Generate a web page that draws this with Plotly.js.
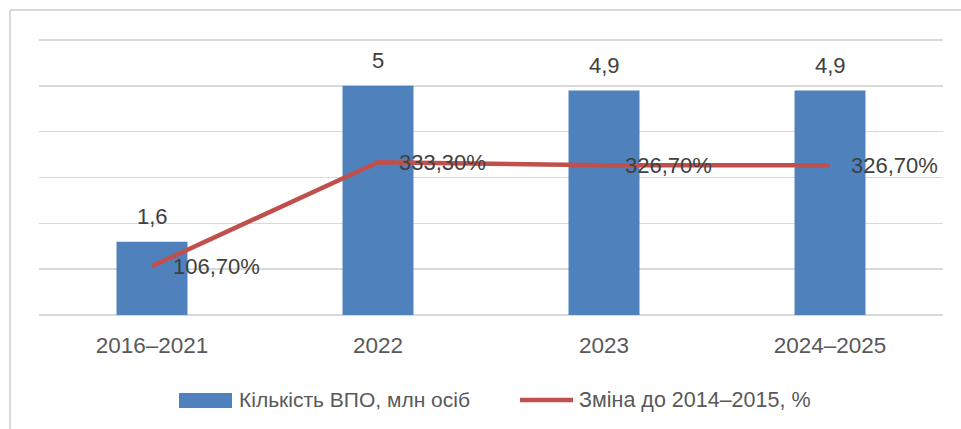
<!DOCTYPE html>
<html>
<head>
<meta charset="utf-8">
<script src="https://cdn.plot.ly/plotly-3.0.1.min.js"></script>
<style>html,body{margin:0;padding:0;background:#fff;}#chart{width:961px;height:429px;}</style>
</head>
<body>
<div id="chart"></div>
<script>
// ---- data ----
const categories = ["2016–2021", "2022", "2023", "2024–2025"];
const idpMillions = [1.6, 5, 4.9, 4.9];
const changePercent = [106.7, 333.3, 326.7, 326.7];
const seriesNames = ["Кількість ВПО, млн осіб", "Зміна до 2014–2015, %"];

// ---- layout geometry ----
const W = 961, H = 429;
const M = {l: 39, r: 18, t: 37, b: 114};
const plotW = W - M.l - M.r, plotH = H - M.t - M.b;
const px = x => (x - M.l) / plotW;
const py = y => (H - M.b - y) / plotH;

const barColor = "#4F81BD";
const lineColor = "#C0504D";
const font = "Liberation Sans, Arial, sans-serif";

const fmtNum = v => String(v).replace(".", ",");
const fmtPct = v => v.toFixed(2).replace(".", ",") + "%";

const traces = [
  {
    type: "bar", x: categories, y: idpMillions, name: seriesNames[0],
    marker: {color: barColor}, hoverinfo: "skip", showlegend: false
  },
  {
    type: "scatter", mode: "lines", x: categories, y: changePercent, yaxis: "y2",
    name: seriesNames[1], line: {color: lineColor, width: 4.5},
    hoverinfo: "skip", showlegend: false
  }
];

const annotations = [];
categories.forEach((c, i) => {
  // category index used as position so numeric-looking labels are not read as coordinates
  annotations.push({
    x: i, y: idpMillions[i], xref: "x", yref: "y", text: fmtNum(idpMillions[i]),
    showarrow: false, yanchor: "middle", xanchor: "center", yshift: 25,
    font: {family: font, size: 22, color: "#404040"}
  });
  annotations.push({
    x: i, y: changePercent[i], xref: "x", yref: "y2", text: fmtPct(changePercent[i]),
    showarrow: false, yanchor: "middle", xanchor: "left", xshift: 19, yshift: 0,
    font: {family: font, size: 22, color: "#404040"}
  });
});
// legend texts
annotations.push({
  x: px(237), y: py(400), xref: "paper", yref: "paper", text: seriesNames[0],
  showarrow: false, xanchor: "left", yanchor: "middle",
  font: {family: font, size: 21, color: "#595959"}
});
annotations.push({
  x: px(577), y: py(400), xref: "paper", yref: "paper", text: seriesNames[1],
  showarrow: false, xanchor: "left", yanchor: "middle",
  font: {family: font, size: 21.5, color: "#595959"}
});

const shapes = [
  // outer frame (top + left)
  {type: "line", xref: "paper", yref: "paper", x0: px(10), x1: px(961), y0: py(10), y1: py(10),
   line: {color: "#d9d9d9", width: 2}},
  {type: "line", xref: "paper", yref: "paper", x0: px(10), x1: px(10), y0: py(10), y1: py(429),
   line: {color: "#d9d9d9", width: 2}},
  // legend swatches
  {type: "rect", xref: "paper", yref: "paper", x0: px(179), x1: px(232), y0: py(393), y1: py(408),
   fillcolor: barColor, line: {width: 0}},
  {type: "line", xref: "paper", yref: "paper", x0: px(520), x1: px(573), y0: py(400), y1: py(400),
   line: {color: lineColor, width: 4.5}}
];

const layout = {
  width: W, height: H, margin: M,
  paper_bgcolor: "#fff", plot_bgcolor: "#fff",
  showlegend: false,
  bargap: 0.686,
  xaxis: {
    type: "category", range: [-0.5, categories.length - 0.5],
    showgrid: false, showline: false, zeroline: false,
    ticks: "", ticklabelstandoff: 14,
    tickfont: {family: font, size: 22.5, color: "#595959"}
  },
  yaxis: {
    range: [0, 6.065], tick0: 0, dtick: 1, showticklabels: false, showgrid: true,
    gridcolor: "#d9d9d9", gridwidth: 1.5, zeroline: true, zerolinecolor: "#d9d9d9",
    zerolinewidth: 1.5, showline: false, ticks: ""
  },
  yaxis2: {
    range: [0, 606.5], overlaying: "y", side: "right", visible: false
  },
  annotations: annotations,
  shapes: shapes
};

Plotly.newPlot("chart", traces, layout, {staticPlot: true, displayModeBar: false});
</script>
</body>
</html>
